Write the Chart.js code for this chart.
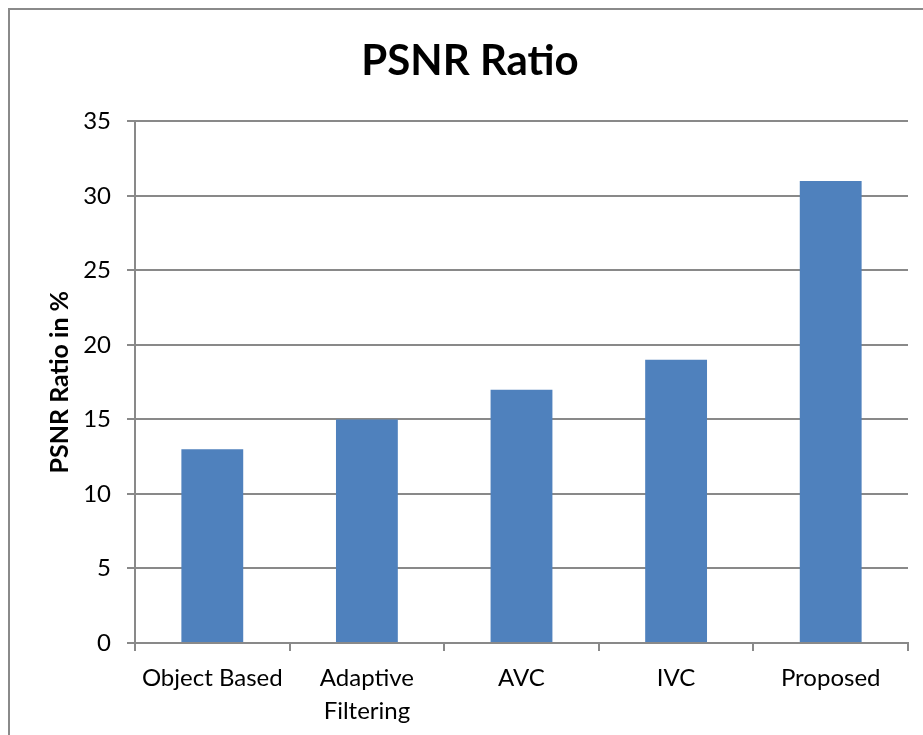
<!DOCTYPE html>
<html>
<head>
<meta charset="utf-8">
<script src="https://cdn.jsdelivr.net/npm/chart.js@4/dist/chart.umd.min.js"></script>
<style>
body{margin:0;background:#fff}
#wrap{position:relative;width:923px;height:735px;overflow:hidden}
#frame{position:absolute;left:8px;top:8px;width:1000px;height:1000px;border-left:2px solid #8a8a8a;border-top:2px solid #8a8a8a}
#chart{position:absolute;left:0;top:0}
</style>
</head>
<body>
<div id="wrap">
<div id="frame"></div>
<canvas id="chart" width="923" height="735"></canvas>
</div>
<script>

let categories=["Object Based",["Adaptive","Filtering"],"AVC","IVC","Proposed"]
let psnrValues=[13,15,17,19,31]
let yTickValues=[0,5,10,15,20,25,30,35]

let gridColor="#898989"
let fontName="Lato, 'Open Sans', sans-serif"

new Chart(document.getElementById("chart"),{

type:"bar",

data:{
labels:categories,
datasets:[{label:"PSNR Ratio",data:psnrValues,backgroundColor:"#4f81bd",barPercentage:0.4,categoryPercentage:1}]
},

options:{
responsive:false,
animation:false,
layout:{padding:{left:32,right:15,top:0,bottom:0}},
plugins:{
legend:{display:false},
tooltip:{enabled:false},
title:{
display:true,
text:"PSNR Ratio",
color:"#000",
font:{family:fontName,size:42,weight:"bold",lineHeight:1.2},
padding:{top:36,bottom:35}
},
},
scales:{
x:{
grid:{display:true,drawOnChartArea:false,drawTicks:true,tickLength:8,offset:true,color:gridColor,lineWidth:2},
border:{display:true,color:gridColor,width:2},
ticks:{color:"#000",padding:10,maxRotation:0,autoSkip:false,font:{family:fontName,size:24,lineHeight:1.4}},
afterFit:function(scale){scale.height=92}
},
y:{
min:0,
max:35,
afterBuildTicks:function(scale){scale.ticks=yTickValues.map(v=>({value:v}))},
grid:{color:gridColor,lineWidth:2,tickLength:8},
border:{display:true,color:gridColor,width:2},
ticks:{color:"#000",padding:16,font:{family:fontName,size:24}},
title:{
display:true,
text:"PSNR Ratio in %",
color:"#000",
font:{family:fontName,size:25,weight:"bold",lineHeight:1.2},
padding:{top:13,bottom:0}
},
afterFit:function(scale){scale.width=103}
}
}
}

})

</script>
</body>
</html>
